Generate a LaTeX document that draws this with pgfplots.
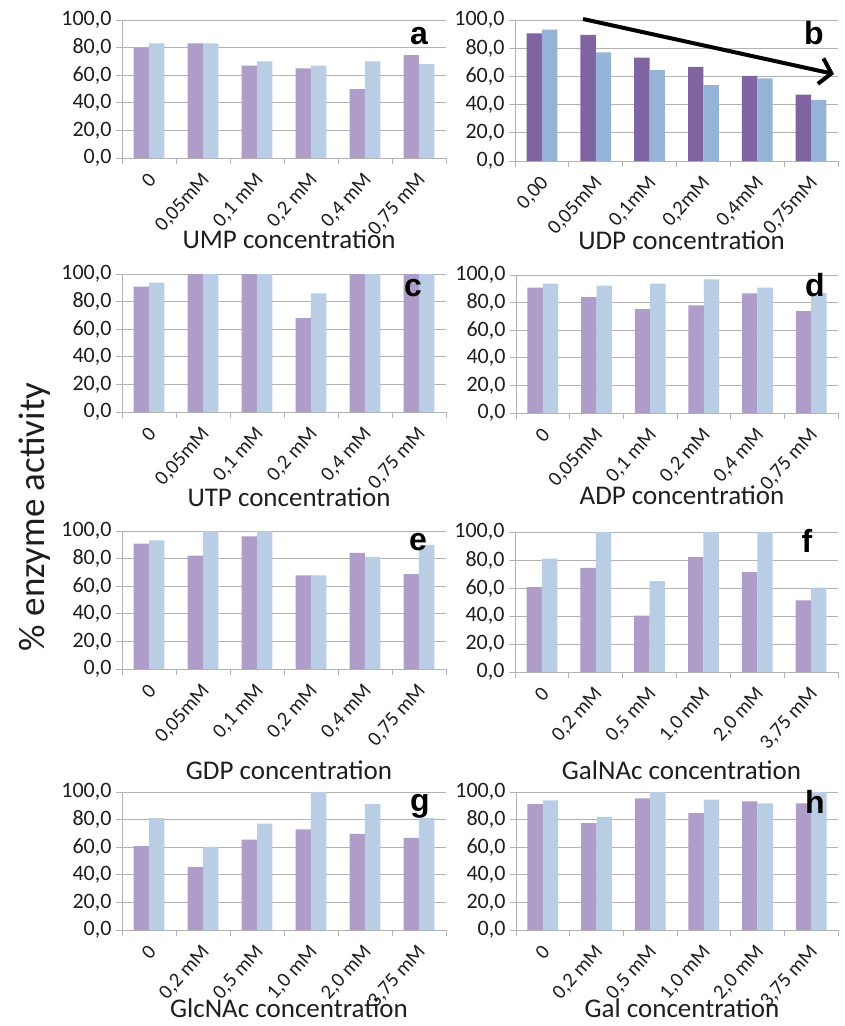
\documentclass[border=0pt]{standalone}
\usepackage{pgfplots}
\pgfplotsset{compat=1.18}
\usepackage{fontspec}
\setmainfont{Carlito}
\newfontfamily\arialfont{Liberation Sans}
\usetikzlibrary{arrows.meta}
\definecolor{pA}{RGB}{174,157,200}
\definecolor{lA}{RGB}{185,205,229}
\definecolor{pB}{RGB}{128,100,162}
\definecolor{lB}{RGB}{149,179,215}
\definecolor{gridgray}{RGB}{178,178,178}
\definecolor{txt}{RGB}{30,30,30}
\pgfplotsset{
  panel/.style={
    scale only axis, anchor=north west,
    ybar=0pt, bar width=15.4pt,
    ymin=0, ymax=100, xmin=-0.5, xmax=5.5,
    ytick={0,20,...,100},
    xtick={-0.5,0.5,...,5.5}, xticklabels={,,,,,,,},
    axis lines=left, axis line style={draw=gridgray, line width=0.9pt, -},
    ymajorgrids, grid style={draw=gridgray, line width=0.9pt},
    tick align=outside, major tick length=6pt,
    tick style={draw=gridgray, line width=0.9pt},
    every tick label/.append style={font=\fontsize{22}{24}\selectfont, text=txt},
    yticklabel style={/pgf/number format/fixed, /pgf/number format/fixed zerofill,
      /pgf/number format/precision=1, /pgf/number format/use comma,
      /pgf/number format/assume math mode=true, xshift=-1pt},
    extra x ticks={0,1,2,3,4,5},
    extra x tick style={tick style={draw=none},
      xticklabel style={rotate=48, anchor=east, inner sep=1pt, xshift=-6.2pt, yshift=-11pt,
        font=\fontsize{20.5}{22}\selectfont}},
    xlabel style={at={(axis description cs:0.5,0)}, anchor=base, xshift=5pt, font=\fontsize{27}{30}\selectfont, text=txt},
  },
  labA/.style={extra x tick labels={0,{0,05mM},{0,1 mM},{0,2 mM},{0,4 mM},{0,75 mM}}},
  labG/.style={extra x tick labels={0,{0,2 mM},{0,5 mM},{1,0 mM},{2,0 mM},{3,75 mM}}},
}
\begin{document}
\begin{tikzpicture}
\path[use as bounding box] (0,0) rectangle (844pt,-1026pt);
% a
\begin{axis}[panel, labA, at={(122pt,-20pt)}, width=324pt, height=138pt,
  xlabel={UMP concentration}, xlabel style={yshift=-90pt}]
\addplot[fill=pA, draw=none] coordinates {(0,80) (1,83) (2,67) (3,65) (4,50) (5,74.5)};
\addplot[fill=lA, draw=none] coordinates {(0,83) (1,83) (2,70) (3,67) (4,70) (5,68)};
\end{axis}
% b
\begin{axis}[panel, at={(515pt,-20pt)}, width=323pt, height=141pt,
  extra x tick labels={{0,00},{0,05mM},{0,1mM},{0,2mM},{0,4mM},{0,75mM}},
  xlabel={UDP concentration}, xlabel style={yshift=-88pt}]
\addplot[fill=pB, draw=none] coordinates {(0,90.5) (1,89.4) (2,73.3) (3,66.7) (4,60.3) (5,47.0)};
\addplot[fill=lB, draw=none] coordinates {(0,93.1) (1,77.1) (2,64.5) (3,53.9) (4,58.6) (5,43.3)};
\end{axis}
% c
\begin{axis}[panel, labA, at={(122pt,-274pt)}, width=324pt, height=138pt,
  xlabel={UTP concentration}, xlabel style={yshift=-94pt}]
\addplot[fill=pA, draw=none] coordinates {(0,90.8) (1,100) (2,100) (3,68) (4,100) (5,100)};
\addplot[fill=lA, draw=none] coordinates {(0,93.7) (1,100) (2,100) (3,86) (4,100) (5,100)};
\end{axis}
% d
\begin{axis}[panel, labA, at={(516pt,-275pt)}, width=322pt, height=138pt,
  xlabel={ADP concentration}, xlabel style={yshift=-91pt}]
\addplot[fill=pA, draw=none] coordinates {(0,90.8) (1,84) (2,75.3) (3,78) (4,86.7) (5,73.8)};
\addplot[fill=lA, draw=none] coordinates {(0,93.7) (1,92.3) (2,93.7) (3,96.9) (4,90.8) (5,86.9)};
\end{axis}
% e
\begin{axis}[panel, labA, at={(122pt,-531pt)}, width=324pt, height=138pt,
  xlabel={GDP concentration}, xlabel style={yshift=-110pt}]
\addplot[fill=pA, draw=none] coordinates {(0,90.9) (1,82.2) (2,96.2) (3,67.8) (4,84.1) (5,68.8)};
\addplot[fill=lA, draw=none] coordinates {(0,93.3) (1,100) (2,100) (3,67.8) (4,81.3) (5,90)};
\end{axis}
% f
\begin{axis}[panel, labG, at={(515pt,-532pt)}, width=323pt, height=140pt,
  xlabel={GalNAc concentration}, xlabel style={yshift=-107pt}]
\addplot[fill=pA, draw=none] coordinates {(0,60.7) (1,74.3) (2,40.2) (3,82.1) (4,71.4) (5,51.2)};
\addplot[fill=lA, draw=none] coordinates {(0,81) (1,100) (2,65) (3,100) (4,100) (5,60.2)};
\end{axis}
% g
\begin{axis}[panel, labG, at={(122pt,-792pt)}, width=324pt, height=138pt,
  xlabel={GlcNAc concentration}, xlabel style={yshift=-87pt}]
\addplot[fill=pA, draw=none] coordinates {(0,60.7) (1,45.8) (2,65.5) (3,73) (4,69.6) (5,66.7)};
\addplot[fill=lA, draw=none] coordinates {(0,81) (1,60.2) (2,77.1) (3,100) (4,91.3) (5,81)};
\end{axis}
% h
\begin{axis}[panel, labG, at={(516pt,-792pt)}, width=322pt, height=138pt,
  xlabel={Gal concentration}, xlabel style={yshift=-87pt}]
\addplot[fill=pA, draw=none] coordinates {(0,91.3) (1,77.5) (2,95.4) (3,84.7) (4,93.2) (5,91.8)};
\addplot[fill=lA, draw=none] coordinates {(0,93.9) (1,82) (2,100) (3,94.4) (4,91.8) (5,100)};
\end{axis}
% panel letters
\begin{scope}[every node/.style={font=\arialfont\bfseries\fontsize{32}{34}\selectfont, inner sep=0pt}]
\node at (419pt,-36pt) {a};
\node at (814pt,-33pt) {b};
\node at (413pt,-288pt) {c};
\node at (815pt,-285pt) {d};
\node at (418pt,-542pt) {e};
\node at (807pt,-541pt) {f};
\node at (420pt,-806pt) {g};
\node at (815pt,-802pt) {h};
\end{scope}
\draw[line width=4pt, -{Straight Barb[length=11pt, width=26pt]}] (583pt,-19pt) -- (834pt,-74pt);
\node[rotate=90, font=\fontsize{37}{40}\selectfont, text=txt] at (35pt,-517pt) {\% enzyme activity};
\end{tikzpicture}
\end{document}
